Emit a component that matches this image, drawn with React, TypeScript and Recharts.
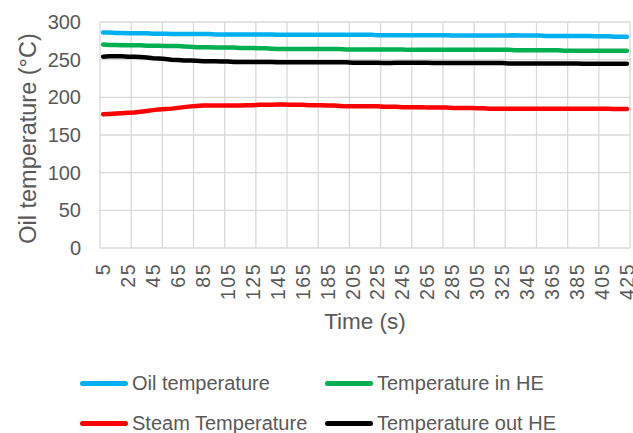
import { LineChart, Line, XAxis, YAxis, CartesianGrid, Label } from 'recharts';

// time (s)
const times = [
  5, 10, 15, 20, 25, 30, 35, 40, 45, 50,
  55, 60, 65, 70, 75, 80, 85, 90, 95, 100,
  105, 110, 115, 120, 125, 130, 135, 140, 145, 150,
  155, 160, 165, 170, 175, 180, 185, 190, 195, 200,
  205, 210, 215, 220, 225, 230, 235, 240, 245, 250,
  255, 260, 265, 270, 275, 280, 285, 290, 295, 300,
  305, 310, 315, 320, 325, 330, 335, 340, 345, 350,
  355, 360, 365, 370, 375, 380, 385, 390, 395, 400,
  405, 410, 415, 420, 425,
];

const oilTemp = [
  286, 286, 285.5, 285.5, 285, 285, 285, 285, 284.5, 284.5,
  284.5, 284, 284, 284, 284, 284, 284, 284, 283.5, 283.5,
  283.5, 283.5, 283.5, 283.5, 283.5, 283.5, 283.5, 283.5, 283, 283,
  283, 283, 283, 283, 283, 283, 283, 283, 283, 283,
  283, 283, 283, 283, 282.5, 282.5, 282.5, 282.5, 282.5, 282.5,
  282.5, 282.5, 282.5, 282.5, 282.5, 282.5, 282, 282, 282, 282,
  282, 282, 282, 282, 282, 282, 282.5, 282, 282, 282,
  282, 281.5, 281.5, 281.5, 281.5, 281.5, 281.5, 281.5, 281.5, 281,
  281, 281, 280.5, 280.5, 280.5,
];

const tempInHE = [
  270, 269.5, 269.5, 269, 269, 269, 269, 268.5, 268.5, 268.5,
  268, 268, 268, 267.5, 267, 266.5, 266.5, 266.5, 266, 266,
  266, 266, 265.5, 265.5, 265.5, 265, 265, 264.5, 264, 264,
  264, 264, 264, 264, 264, 264, 264, 264, 264, 263.5,
  263.5, 263.5, 263.5, 263.5, 263.5, 263.5, 263.5, 263.5, 263.5, 263,
  263, 263, 263, 263, 263, 263, 263, 263, 263, 263,
  263, 263, 263, 263, 263, 263, 262.5, 262.5, 262.5, 262.5,
  262.5, 262.5, 262.5, 262.5, 262, 262, 262, 262, 262, 262,
  262, 262, 262, 262, 262,
];

const steamTemp = [
  177.5, 178, 178.5, 179, 179.5, 180, 181, 182, 183, 184,
  184.5, 185, 186, 187, 188, 188.5, 189, 189, 189, 189,
  189, 189, 189, 189.5, 189.5, 190, 190, 190, 190.5, 190.5,
  190, 190, 190, 189.5, 189.5, 189.5, 189, 189, 188.5, 188,
  188, 188, 188, 188, 188, 187.5, 187.5, 187.5, 187, 187,
  187, 187, 186.5, 186.5, 186.5, 186.5, 186, 186, 186, 186,
  185.5, 185.5, 185, 185, 185, 185, 185, 185, 185, 185,
  185, 185, 185, 185, 185, 185, 185, 185, 185, 185,
  185, 185, 184.5, 184.5, 184.5,
];

const tempOutHE = [
  254, 254.5, 254.5, 254.5, 254, 254, 253.5, 253, 252, 251.5,
  251, 250, 249.5, 249, 249, 248.5, 248, 248, 248, 247.5,
  247.5, 247, 247, 247, 247, 247, 247, 247, 246.5, 246.5,
  246.5, 246.5, 246.5, 246.5, 246.5, 246.5, 246.5, 246.5, 246.5, 246.5,
  246, 246, 246, 246, 246, 245.5, 245.5, 246, 246, 246,
  246, 246, 246, 245.5, 245.5, 245.5, 245.5, 245.5, 245.5, 245.5,
  245.5, 245.5, 245.5, 245.5, 245.5, 245, 245, 245, 245, 245,
  245, 245, 245, 245, 245, 245, 245, 244.5, 244.5, 244.5,
  244.5, 244.5, 244.5, 244.5, 244.5,
];

const xTicks = [5, 25, 45, 65, 85, 105, 125, 145, 165, 185, 205, 225, 245, 265, 285, 305, 325, 345, 365, 385, 405, 425];
const yTicks = [0, 50, 100, 150, 200, 250, 300];
// vertical gridlines sit between categories, every 5th one
const xGrid = [2.5, 27.5, 52.5, 77.5, 102.5, 127.5, 152.5, 177.5, 202.5, 227.5, 252.5, 277.5, 302.5, 327.5, 352.5, 377.5, 402.5, 427.5];
const xDomain = [2.5, 427.5];

const series = [
  { key: 'oil', name: 'Oil temperature', color: '#00B0F0' },
  { key: 'inHE', name: 'Temperature in HE', color: '#00B050' },
  { key: 'steam', name: 'Steam Temperature', color: '#FF0000' },
  { key: 'outHE', name: 'Temperature out HE', color: '#000000' },
];

const data = times.map((t, i) => ({
  t,
  oil: oilTemp[i],
  inHE: tempInHE[i],
  steam: steamTemp[i],
  outHE: tempOutHE[i],
}));

const FONT = '"Liberation Sans", Arial, sans-serif';
const GREY = '#595959';

const XTick = ({ x, y, payload }: any) => (
  <text
    x={x}
    y={y}
    transform={`rotate(-90, ${x}, ${y})`}
    textAnchor="end"
    dy="0.36em"
    fontSize={19.5}
    letterSpacing={1.5}
    fill={GREY}
    fontFamily={FONT}
  >
    {payload.value}
  </text>
);

const gridX = ({ offset }: any) =>
  xGrid.map((v) => offset.left + ((v - xDomain[0]) / (xDomain[1] - xDomain[0])) * offset.width);

export default function App() {
  return (
    <div style={{ position: 'absolute', left: 0, top: 0, width: 633, height: 433, background: '#fff', fontFamily: FONT }}>
      <LineChart width={633} height={433} data={data} margin={{ top: 22, right: 3, bottom: 95, left: 0 }}>
        <CartesianGrid stroke="#D9D9D9" strokeWidth={1.3} verticalCoordinatesGenerator={gridX} />
        <XAxis
          dataKey="t"
          type="number"
          domain={xDomain}
          ticks={xTicks}
          interval={0}
          height={90}
          axisLine={false}
          tickLine={false}
          tickSize={0}
          tickMargin={15}
          tick={<XTick />}
        >
          <Label
            content={({ viewBox }: any) => (
              <text
                x={viewBox.x + viewBox.width / 2}
                y={viewBox.y + 81}
                textAnchor="middle"
                fontSize={22.5}
                fill={GREY}
                fontFamily={FONT}
              >
                Time (s)
              </text>
            )}
          />
        </XAxis>
        <YAxis
          domain={[0, 300]}
          ticks={yTicks}
          width={100}
          axisLine={false}
          tickLine={false}
          tickSize={0}
          tickMargin={19}
          tick={{ fontSize: 20, fill: GREY, fontFamily: FONT }}
        >
          <Label
            content={({ viewBox }: any) => {
              const cx = viewBox.x + 36;
              const cy = viewBox.y + viewBox.height / 2 + 3.5;
              return (
                <text
                  x={cx}
                  y={cy}
                  transform={`rotate(-90, ${cx}, ${cy})`}
                  textAnchor="middle"
                  fontSize={23.5}
                  fill={GREY}
                  fontFamily={FONT}
                >
                  Oil temperature (°C)
                </text>
              );
            }}
          />
        </YAxis>
        {series.map((s) => (
          <Line
            key={s.key}
            dataKey={s.key}
            name={s.name}
            stroke={s.color}
            strokeWidth={4.5}
            strokeLinecap="round"
            dot={false}
            type="linear"
            isAnimationActive={false}
          />
        ))}
      </LineChart>
      <div
        style={{
          position: 'absolute',
          left: 80,
          top: 370,
          display: 'grid',
          gridTemplateColumns: '245px auto',
          gridAutoRows: '40px',
          fontSize: 20,
          color: GREY,
        }}
      >
        {series.map((s) => (
          <div key={s.key} style={{ display: 'flex', alignItems: 'center', height: 26 }}>
            <span style={{ width: 48, height: 5, borderRadius: 3, background: s.color, marginRight: 4 }} />
            <span>{s.name}</span>
          </div>
        ))}
      </div>
    </div>
  );
}
